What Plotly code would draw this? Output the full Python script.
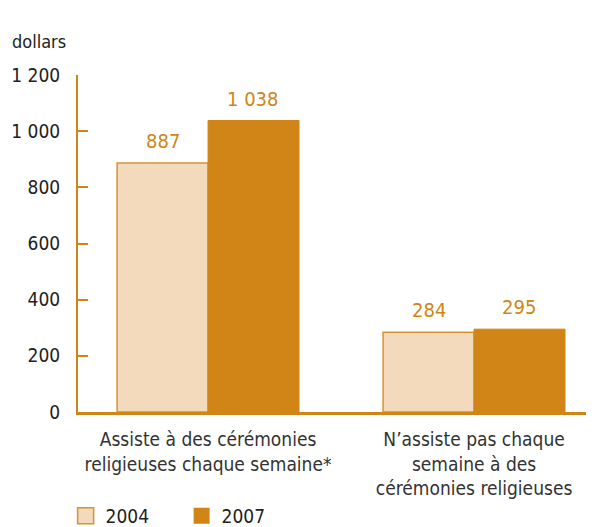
import plotly.graph_objects as go

categories = ["Assiste à des cérémonies<br>religieuses chaque semaine*",
              "N’assiste pas chaque<br>semaine à des<br>cérémonies religieuses"]
values_2004 = [887, 284]
values_2007 = [1038, 295]
y_ticks = [0, 200, 400, 600, 800, 1000, 1200]

orange = "#D08516"
light = "#F3DABD"
edge = "#D8932F"
font_family = "Liberation Sans Narrow, DejaVu Sans Condensed, sans-serif"

fig = go.Figure()
fig.add_trace(go.Bar(
    x=categories, y=values_2004, name="2004", showlegend=False,
    marker=dict(color=light, line=dict(color=edge, width=1.5)),
))
fig.add_trace(go.Bar(
    x=categories, y=values_2007, name="2007", showlegend=False,
    marker=dict(color=orange, line=dict(color=orange, width=1)),
))
# legend entries with bigger square swatches
fig.add_trace(go.Scatter(
    x=[None], y=[None], mode="markers", name="2004",
    marker=dict(symbol="square", size=16, color=light, line=dict(color=edge, width=1.5)),
))
fig.add_trace(go.Scatter(
    x=[None], y=[None], mode="markers", name="2007",
    marker=dict(symbol="square", size=17, color=orange, line=dict(color=orange, width=0)),
))

# value labels above each bar
annotations = []
for vals, shift in [(values_2004, -45), (values_2007, 45)]:
    for cat, v in zip(categories, vals):
        annotations.append(dict(
            x=cat, y=v, text=f"{v:,}".replace(",", " "), showarrow=False,
            xshift=shift, yshift=8, yanchor="bottom",
            font=dict(size=20, color=orange),
        ))
annotations.append(dict(text="dollars", xref="paper", yref="paper", x=-0.132, y=1.098,
                        xanchor="left", yanchor="middle", showarrow=False,
                        font=dict(size=18, color="#222222")))

fig.update_layout(
    width=594, height=527,
    margin=dict(l=70, r=8, t=67, b=123),
    paper_bgcolor="white", plot_bgcolor="white",
    font=dict(family=font_family, size=18, color="#222222"),
    separators=", ",
    barmode="group", bargap=0.316, bargroupgap=0,
    showlegend=True,
    legend=dict(orientation="h", x=0.097, y=0.0, xref="container", yref="container",
                xanchor="left", yanchor="bottom", font=dict(size=19, color="#222222"),
                itemwidth=30, traceorder="normal", entrywidth=71),
    annotations=annotations,
)
fig.update_xaxes(
    range=[-0.489, 1.451], showline=True, linecolor=orange, linewidth=3,
    ticks="", tickfont=dict(size=19, color="#333333"), showgrid=False,
    automargin=False, ticklabelstandoff=8,
)
fig.update_yaxes(
    range=[0, 1200], tickvals=y_ticks, tickformat=",", showline=True,
    linecolor=orange, linewidth=2, ticks="inside", ticklen=10, tickwidth=2,
    tickcolor=orange, showgrid=False, zeroline=False, automargin=False,
    ticklabelstandoff=12,
    tickfont=dict(size=19, color="#222222"),
)

fig.write_html("out.html")
